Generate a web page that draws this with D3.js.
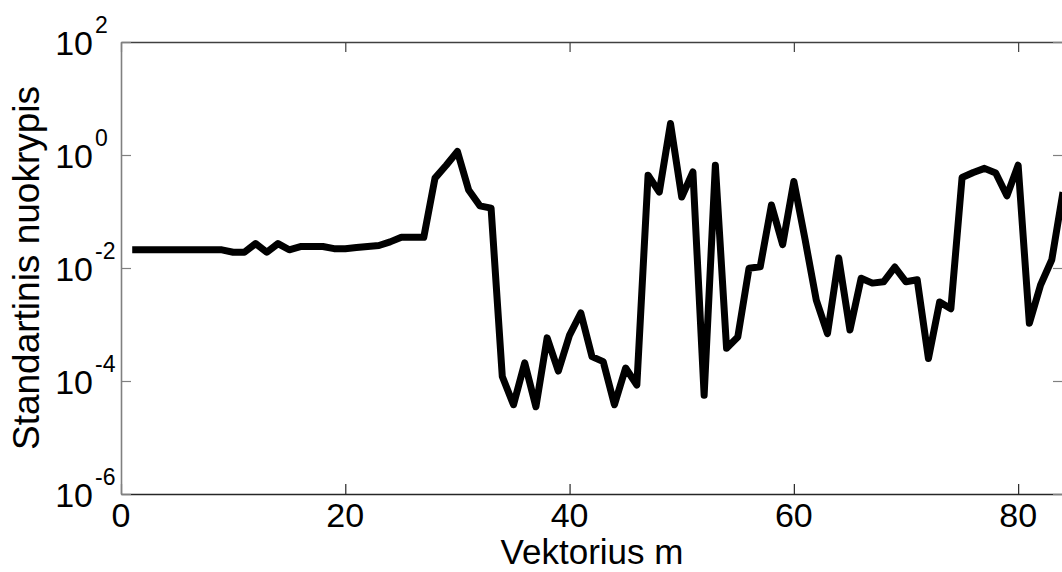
<!DOCTYPE html>
<html>
<head>
<meta charset="utf-8">
<script src="https://cdn.jsdelivr.net/npm/d3@7"></script>
<style>
  html, body { margin: 0; padding: 0; background: #fff; }
  svg { display: block; font-family: "Liberation Sans", Arial, sans-serif; }
</style>
</head>
<body>
<svg id="chart" width="1062" height="572"></svg>
<script>
// ---- data ----
const mValues = [1,2,3,4,5,6,7,8,9,10,11,12,13,14,15,16,17,18,19,20,
  21,22,23,24,25,26,27,28,29,30,31,32,33,34,35,36,37,38,39,40,
  41,42,43,44,45,46,47,48,49,50,51,52,53,54,55,56,57,58,59,60,
  61,62,63,64,65,66,67,68,69,70,71,72,73,74,75,76,77,78,79,80,
  81,82,83,84];
const stdValues = [
  0.021, 0.021, 0.021, 0.021, 0.021, 0.021, 0.021, 0.021, 0.021, 0.019,
  0.019, 0.027, 0.019, 0.027, 0.021, 0.024, 0.024, 0.024, 0.022, 0.022,
  0.023, 0.024, 0.025, 0.029, 0.035, 0.035, 0.035, 0.39, 0.66, 1.15,
  0.24, 0.126, 0.115, 1.2e-4, 3.8e-5, 2.1e-4, 3.5e-5, 5.8e-4, 1.5e-4, 6.5e-4,
  1.6e-3, 2.7e-4, 2.2e-4, 3.8e-5, 1.7e-4, 8.5e-5, 0.44, 0.22, 3.6, 0.18,
  0.5, 5.6e-5, 0.66, 3.8e-4, 6e-4, 9.9e-3, 0.0105, 0.13, 0.026, 0.34,
  0.032, 2.7e-3, 6.9e-4, 0.015, 8e-4, 6.6e-3, 5.4e-3, 5.7e-3, 0.0104, 5.7e-3,
  6.2e-3, 2.5e-4, 2.5e-3, 1.9e-3, 0.40, 0.49, 0.58, 0.48, 0.19, 0.66,
  1.05e-3, 5e-3, 0.014, 0.22
];
const xTicks = [0, 20, 40, 60, 80];
const yTicks = [1e-6, 1e-4, 1e-2, 1e0, 1e2];
const yTickExponents = ["-6", "-4", "-2", "0", "2"];
const xLabel = "Vektorius m";
const yLabel = "Standartinis nuokrypis";

// ---- layout ----
const pL = 121, pR = 1063, pT = 42, pB = 494;
const svg = d3.select("#chart");
const x = d3.scaleLinear().domain([0, 84]).range([pL, pR]);
const y = d3.scaleLog().domain([1e-6, 1e2]).range([pB, pT]);

// clip
svg.append("clipPath").attr("id", "clip")
  .append("rect").attr("x", pL).attr("y", pT)
  .attr("width", pR - pL).attr("height", pB - pT);

// axes (ticks inward)
const gB = svg.append("g").attr("transform", `translate(0,${pB})`)
  .call(d3.axisBottom(x).tickValues(xTicks).tickSizeInner(-10).tickSizeOuter(0).tickFormat(""));
const gT = svg.append("g").attr("transform", `translate(0,${pT})`)
  .call(d3.axisTop(x).tickValues(xTicks).tickSizeInner(-10).tickSizeOuter(0).tickFormat(""));
const gL = svg.append("g").attr("transform", `translate(${pL},0)`)
  .call(d3.axisLeft(y).tickValues(yTicks).tickSizeInner(-10).tickSizeOuter(0).tickFormat(""));
const gR = svg.append("g").attr("transform", `translate(${pR},0)`)
  .call(d3.axisRight(y).tickValues(yTicks).tickSizeInner(-10).tickSizeOuter(0).tickFormat(""));

gB.select(".domain").attr("stroke", "#262626").attr("stroke-width", 1.6);
gB.selectAll(".tick line").attr("stroke", "#262626").attr("stroke-width", 1.2);
gT.select(".domain").attr("stroke", "#404040").attr("stroke-width", 1.6);
gT.selectAll(".tick line").attr("stroke", "#404040").attr("stroke-width", 1.2);
gL.select(".domain").attr("stroke", "#808080").attr("stroke-width", 1.6);
gL.selectAll(".tick line").attr("stroke", "#808080").attr("stroke-width", 1.2);
gR.select(".domain").attr("stroke", "#808080").attr("stroke-width", 1.6);
gR.selectAll(".tick line").attr("stroke", "#808080").attr("stroke-width", 1.2);

// x tick labels
svg.append("g").selectAll("text").data(xTicks).join("text")
  .attr("x", d => x(d)).attr("y", 527)
  .attr("text-anchor", "middle")
  .attr("font-size", 34).attr("fill", "#000")
  .text(d => d);

// y tick labels: 10^n
const yl = svg.append("g").selectAll("g").data(yTicks).join("g");
yl.append("text")
  .attr("x", 93).attr("y", d => y(d) + 12.5)
  .attr("text-anchor", "end")
  .attr("font-size", 34).attr("fill", "#000")
  .text("10");
yl.append("text")
  .attr("x", 95).attr("y", d => y(d) - 9.5)
  .attr("text-anchor", "start")
  .attr("font-size", 23).attr("fill", "#000")
  .text((d, i) => yTickExponents[i]);

// axis labels
svg.append("text")
  .attr("x", (pL + pR) / 2).attr("y", 564)
  .attr("text-anchor", "middle").attr("font-size", 35).attr("fill", "#000")
  .text(xLabel);
svg.append("text")
  .attr("transform", `translate(39,${(pT + pB) / 2}) rotate(-90)`)
  .attr("text-anchor", "middle").attr("font-size", 37).attr("fill", "#000")
  .text(yLabel);

// line
const line = d3.line().x((d, i) => x(mValues[i])).y(d => y(d));
svg.append("path")
  .datum(stdValues)
  .attr("clip-path", "url(#clip)")
  .attr("fill", "none")
  .attr("stroke", "#000")
  .attr("stroke-width", 7)
  .attr("stroke-linejoin", "round")
  .attr("stroke-linecap", "butt")
  .attr("d", line);
</script>
</body>
</html>
